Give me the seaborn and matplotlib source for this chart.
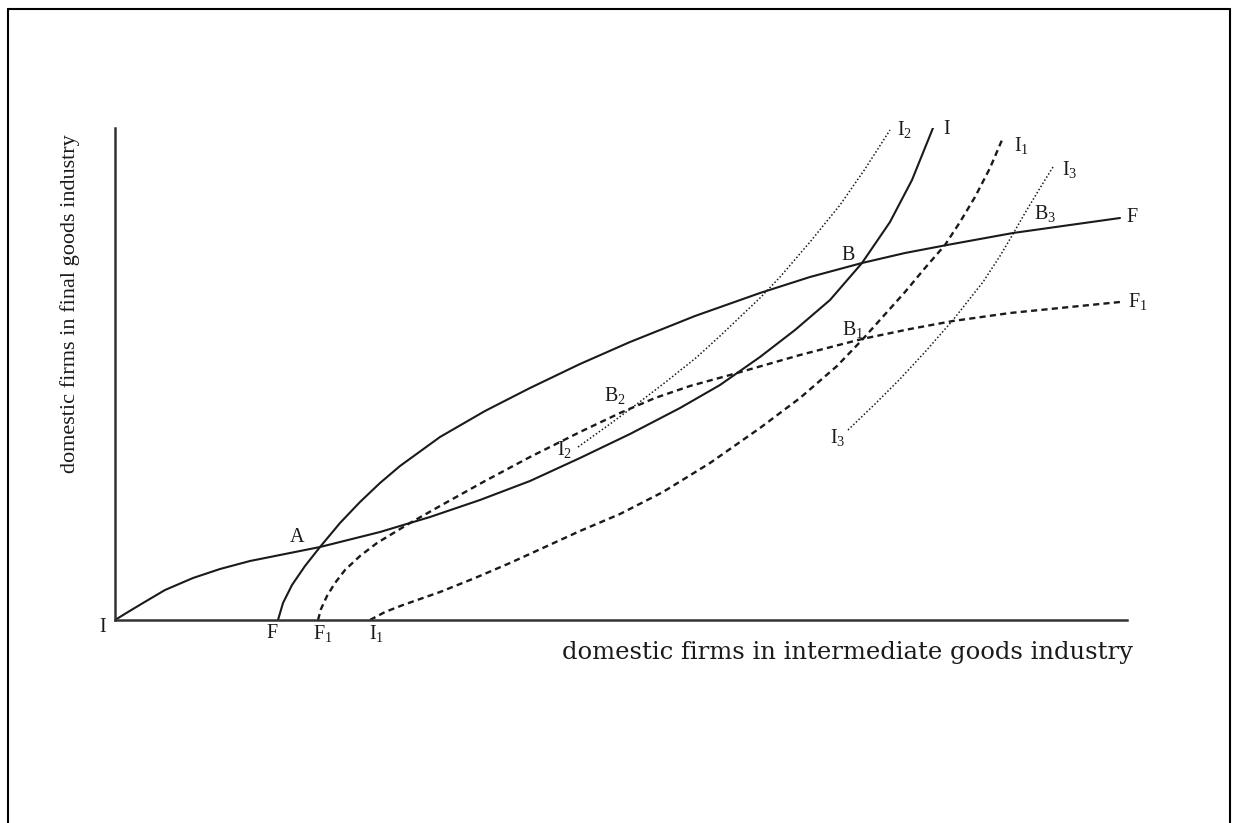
import matplotlib
matplotlib.use("Agg")
import matplotlib.pyplot as plt
from matplotlib.lines import Line2D
import seaborn as sns

# curve points (x from the origin to the right, y upwards)
ii_x = [0, 13, 28, 50, 78, 105, 135, 170, 205, 265, 315, 365, 415, 465, 515, 565,
        605, 645, 680, 715, 747, 775, 797, 818]
ii_y = [0, 8, 17, 30, 42, 51, 59, 66, 73, 88, 103, 120, 139, 162, 186, 212,
        235, 263, 290, 320, 357, 398, 440, 492]

ff_x = [163, 168, 177, 190, 205, 225, 245, 265, 285, 325, 370, 415, 465, 515, 580,
        645, 695, 747, 790, 832, 898, 955, 1005]
ff_y = [0, 17, 35, 54, 73, 97, 118, 137, 154, 183, 209, 232, 256, 278, 304,
        327, 343, 357, 367, 375, 387, 395, 402]

f1_x = [203, 206, 212, 220, 230, 245, 262, 295, 325, 370, 415, 465, 505, 540, 575,
        615, 685, 747, 795, 838, 895, 955, 1005]
f1_y = [0, 11, 24, 37, 50, 64, 77, 97, 114, 139, 163, 188, 207, 222, 234,
        245, 265, 281, 291, 299, 307, 313, 318]

i1_x = [255, 270, 288, 325, 360, 395, 465, 505, 548, 595, 645, 685, 722, 747, 790,
        810, 830, 845, 860, 875, 887]
i1_y = [0, 8, 15, 28, 42, 57, 89, 106, 128, 157, 192, 222, 254, 280, 328,
        352, 375, 398, 423, 452, 480]

i2_x = [463, 495, 522, 552, 582, 605, 625, 645, 665, 695, 725, 750, 775]
i2_y = [173, 196, 216, 239, 263, 284, 303, 322, 343, 378, 415, 451, 490]

i3_x = [733, 760, 785, 810, 838, 868, 885, 898, 910, 925, 938]
i3_y = [190, 216, 241, 268, 300, 338, 364, 386, 407, 432, 453]

# point labels: text, x, y
labels = [
    ("I", -12, -8), ("F", 157, -13), (r"F$_1$", 208, -14), (r"I$_1$", 262, -14),
    ("A", 182, 83), ("B", 733, 364), (r"B$_1$", 738, 291), (r"B$_2$", 500, 224),
    (r"B$_3$", 930, 406), (r"I$_2$", 450, 170), (r"I$_3$", 723, 183),
    (r"I$_2$", 790, 490), ("I", 832, 490), (r"I$_1$", 907, 475), (r"I$_3$", 955, 450),
]
end_labels = [("F", 1011, 402), (r"F$_1$", 1013, 318)]

sns.set_style("white")
plt.rcParams["font.family"] = ["Liberation Serif", "DejaVu Serif"]
plt.rcParams["mathtext.fontset"] = "custom"
plt.rcParams["mathtext.rm"] = "Liberation Serif"
plt.rcParams["mathtext.it"] = "Liberation Serif"

fig = plt.figure(figsize=(12.36, 8.23), dpi=100)
ax = fig.add_axes([115 / 1236, 203 / 823, 1012 / 1236, 492 / 823])

ink = "#1a1a1a"
solid = dict(color=ink, linewidth=1.5, sort=False, estimator=None)
dashed = dict(color=ink, linewidth=1.7, sort=False, estimator=None,
              linestyle=(0, (2.6, 1.8)))
dotted = dict(color=ink, linewidth=1.1, sort=False, estimator=None,
              linestyle=(0, (1, 1.4)))
sns.lineplot(x=ii_x, y=ii_y, ax=ax, **solid)
sns.lineplot(x=ff_x, y=ff_y, ax=ax, **solid)
sns.lineplot(x=f1_x, y=f1_y, ax=ax, **dashed)
sns.lineplot(x=i1_x, y=i1_y, ax=ax, **dashed)
sns.lineplot(x=i2_x, y=i2_y, ax=ax, **dotted)
sns.lineplot(x=i3_x, y=i3_y, ax=ax, **dotted)

for txt, x, y in labels:
    ax.text(x, y, txt, fontsize=14.5, ha="center", va="center", color=ink)
for txt, x, y in end_labels:
    ax.text(x, y, txt, fontsize=14.5, ha="left", va="center", color=ink)

ax.set_xlim(0, 1012)
ax.set_ylim(0, 492)
ax.set_xticks([])
ax.set_yticks([])
sns.despine(ax=ax)
for side in ["left", "bottom"]:
    ax.spines[side].set_linewidth(1.8)
    ax.spines[side].set_color("#333333")

ax.text(1018, -32, "domestic firms in intermediate goods industry", fontsize=17.5,
        family="DejaVu Serif", ha="right", va="center", color=ink)
ax.text(-45, 316, "domestic firms in final goods industry", fontsize=16,
        rotation=90, ha="center", va="center", color=ink)
for t in ax.texts:
    t.set_clip_on(False)

# frame round the picture
fr = dict(color="black", linewidth=1.5, transform=fig.transFigure)
fig.add_artist(Line2D([8 / 1236, 1230 / 1236], [1 - 9 / 823, 1 - 9 / 823], **fr))
fig.add_artist(Line2D([8 / 1236, 8 / 1236], [0, 1 - 9 / 823], **fr))
fig.add_artist(Line2D([1230 / 1236, 1230 / 1236], [0, 1 - 9 / 823], **fr))

fig.savefig("out.png", dpi=100)
